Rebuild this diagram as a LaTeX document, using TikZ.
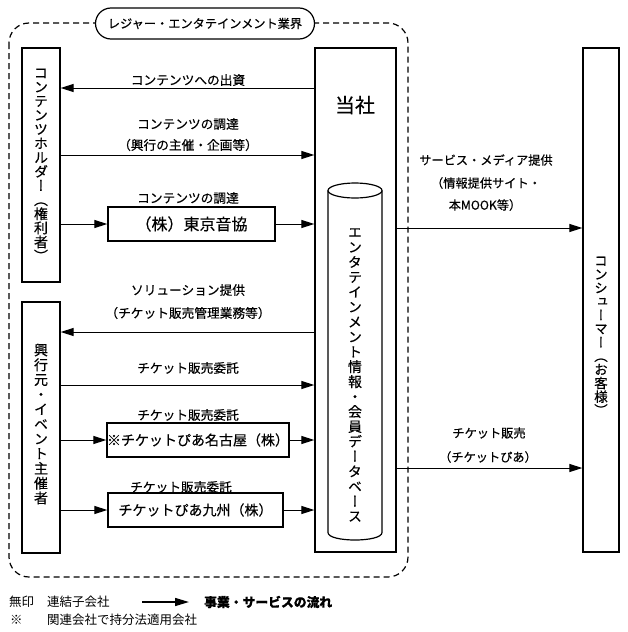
\documentclass[tikz,border=0pt]{standalone}
\usepackage{fontspec}
\setmainfont[FakeBold=0.4]{Noto Sans CJK JP}
\newfontfamily\vjp[RawFeature=+vert,FakeBold=0.4]{Noto Sans CJK JP}
\newfontfamily\legjp{Noto Sans CJK JP}
\usetikzlibrary{arrows.meta,shapes.misc}
\begin{document}
\begin{tikzpicture}[x=1pt,y=-1pt,
  box/.style={draw, line width=1.3pt, inner sep=0pt},
  arr/.style={line width=1pt, -{Triangle[length=13pt,width=8pt]}},
  lbl/.style={font=\fontsize{12.7}{14}\selectfont, inner sep=0pt},
  rlbl/.style={font=\fontsize{12.2}{14}\selectfont, inner sep=0pt},
  vtxt/.style={align=center, inner sep=0pt},
  leg/.style={font=\legjp\fontsize{12.5}{14}\selectfont, inner sep=0pt, anchor=west},
]
\useasboundingbox (0,0) rectangle (627,632);
% industry frame
\draw[line width=1.2pt, dash pattern=on 6pt off 4pt, rounded corners=20pt] (9,23) rectangle (408,577);
\node[draw, line width=1.2pt, fill=white, rounded rectangle, minimum width=219pt, minimum height=31pt, inner sep=0pt, font=\fontsize{12.2}{14}\selectfont] (industry) at (205,23.5) {レジャー・エンタテインメント業界};
% left boxes
\node[box, minimum width=38pt, minimum height=234pt, vtxt, font=\vjp\fontsize{14}{14.1}\selectfont] (holder) at (41,165) {コ\\ン\\テ\\ン\\ツ\\ホ\\ル\\ダ\\ー\\（\\権\\利\\者\\）};
\node[box, minimum width=38pt, minimum height=251pt] (organizer) at (41,427.5) {};
\node[vtxt, font=\vjp\fontsize{14}{14.8}\selectfont] (orgtxt) at (41,424) {興\\行\\元\\・\\イ\\ベ\\ン\\ト\\主\\催\\者};
% company
\node[box, minimum width=81pt, minimum height=504pt] (company) at (355.5,300) {};
\node[inner sep=0pt, font=\fontsize{20}{22}\selectfont] (tosha) at (355,105) {当社};
\draw[line width=1.2pt] (355,190.5) ellipse [x radius=27pt, y radius=7.5pt];
\draw[line width=1.2pt] (328,190.5) -- (328,532.5) .. controls (328,542.5) and (382,542.5) .. (382,532.5) -- (382,190.5);
\node[vtxt, font=\vjp\fontsize{14}{14.95}\selectfont] (db) at (355,375) {エ\\ン\\タ\\テ\\イ\\ン\\メ\\ン\\ト\\情\\報\\・\\会\\員\\デ\\ー\\タ\\ベ\\ー\\ス};
% consumer
\node[box, minimum width=36pt, minimum height=504pt] (consumer) at (601,300) {};
\node[vtxt, font=\vjp\fontsize{13.5}{13.6}\selectfont] (contxt) at (601,336) {コ\\ン\\シ\\ュ\\ー\\マ\\ー\\（\\お\\客\\様\\）};
% intermediate companies
\node[box, minimum width=167pt, minimum height=34pt, font=\fontsize{16}{18}\selectfont] (tokyo) at (191.5,224) {（株）東京音協};
\node[box, minimum width=180pt, minimum height=34pt, font=\fontsize{14}{16}\selectfont] (nagoya) at (198,440) {※チケットぴあ名古屋（株）};
\node[box, minimum width=175pt, minimum height=34pt, font=\fontsize{14}{16}\selectfont] (kyushu) at (195.5,510) {チケットぴあ九州（株）};
% left arrows
\node[lbl] (l1) at (188,80) {コンテンツへの出資};
\draw[arr] (company.west |- 0,88) -- (holder.east |- 0,88);
\node[lbl] (l2a) at (188,124) {コンテンツの調達};
\node[lbl] (l2b) at (188,145) {（興行の主催・企画等）};
\draw[arr] (holder.east |- 0,155) -- (company.west |- 0,155);
\node[lbl] (l3) at (188,198) {コンテンツの調達};
\draw[arr] (holder.east |- tokyo.west) -- (tokyo.west);
\draw[arr] (tokyo.east) -- (company.west |- tokyo.east);
\node[lbl] (l4a) at (188,290) {ソリューション提供};
\node[lbl] (l4b) at (188,313) {（チケット販売管理業務等）};
\draw[arr] (company.west |- 0,332) -- (organizer.east |- 0,332);
\node[lbl] (l5) at (188,368) {チケット販売委託};
\draw[arr] (organizer.east |- 0,385) -- (company.west |- 0,385);
\node[lbl] (l6) at (188,415) {チケット販売委託};
\draw[arr] (organizer.east |- nagoya.west) -- (nagoya.west);
\draw[arr] (nagoya.east) -- (company.west |- nagoya.east);
\node[lbl] (l7) at (181,487) {チケット販売委託};
\draw[arr] (organizer.east |- kyushu.west) -- (kyushu.west);
\draw[arr] (kyushu.east) -- (company.west |- kyushu.east);
% right arrows
\node[rlbl] (r1a) at (486,160) {サービス・メディア提供};
\node[rlbl] (r1b) at (486,183) {（情報提供サイト・};
\node[rlbl] (r1c) at (485,205) {本MOOK等）};
\draw[arr] (company.east |- 0,228) -- (consumer.west |- 0,228);
\node[rlbl] (r2a) at (489,433) {チケット販売};
\node[rlbl] (r2b) at (488,457) {（チケットぴあ）};
\draw[arr] (company.east |- 0,468) -- (consumer.west |- 0,468);
% legend
\node[leg] (m1) at (9,602) {無印};
\node[leg] (m1t) at (47,602) {連結子会社};
\coordinate (la) at (142,602);
\coordinate (lb) at (189,602);
\draw[line width=1.5pt, -{Triangle[length=14pt,width=8pt]}] (la) -- (lb);
\node[leg, font=\bfseries\fontsize{12.8}{14}\selectfont] (m2) at (204,602) {事業・サービスの流れ};
\node[leg] (m3) at (10,620) {※};
\node[leg] (m3t) at (47,620) {関連会社で持分法適用会社};
\end{tikzpicture}
\end{document}
